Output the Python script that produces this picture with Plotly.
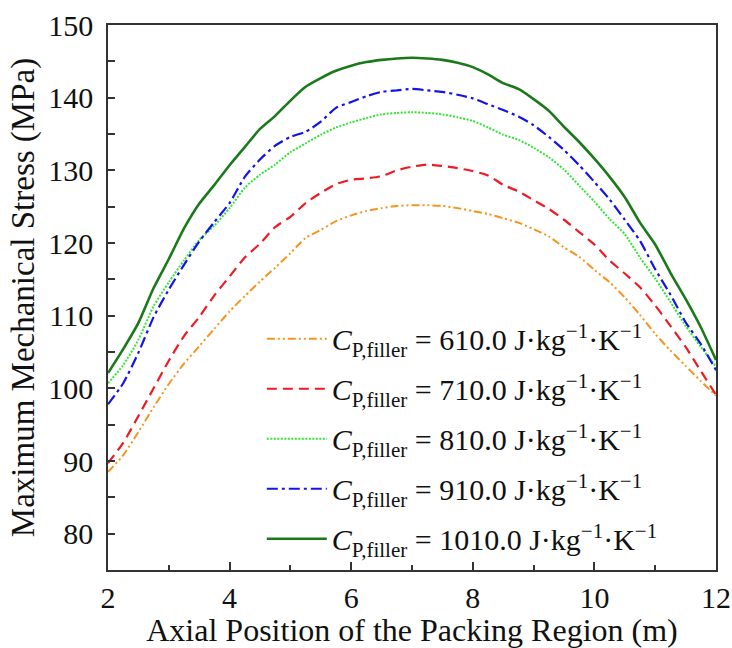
import plotly.graph_objects as go

x_pos = [2.0, 2.25, 2.5, 2.75, 3.0, 3.25, 3.5, 3.75, 4.0, 4.25, 4.5, 4.75, 5.0, 5.25, 5.5, 5.75,
         6.0, 6.25, 6.5, 6.75, 7.0, 7.25, 7.5, 7.75, 8.0, 8.25, 8.5, 8.75, 9.0, 9.25, 9.5, 9.75,
         10.0, 10.25, 10.5, 10.75, 11.0, 11.25, 11.5, 11.75, 12.0]

stress_610 = [88.5, 90.8, 94.0, 97.4, 100.6, 103.4, 105.8, 108.2, 110.6, 112.7, 114.7, 116.6, 118.6,
              120.7, 121.8, 123.0, 123.8, 124.4, 124.8, 125.1, 125.2, 125.2, 125.1, 124.8, 124.4,
              124.0, 123.4, 122.8, 121.9, 120.9, 119.4, 118.1, 116.3, 114.6, 112.5, 110.1, 107.5,
              105.2, 103.1, 101.0, 99.0]
stress_710 = [89.7, 92.5, 96.2, 100.0, 103.8, 107.2, 109.8, 112.8, 115.4, 118.0, 119.9, 122.2, 123.6,
              125.5, 126.9, 128.1, 128.7, 128.9, 129.2, 130.0, 130.5, 130.8, 130.6, 130.3, 129.9,
              129.3, 128.0, 127.1, 125.9, 124.7, 123.2, 121.5, 119.8, 117.6, 115.8, 113.9, 111.4,
              108.6, 105.7, 102.4, 99.1]
stress_810 = [100.7, 103.2, 106.7, 111.3, 114.6, 117.6, 120.4, 122.4, 124.8, 127.6, 129.4, 130.8, 132.5,
              133.7, 134.9, 135.9, 136.6, 137.2, 137.7, 137.9, 138.0, 137.9, 137.7, 137.3, 136.8,
              135.9, 134.9, 134.2, 133.1, 131.8, 130.1, 127.9, 125.7, 123.3, 121.2, 118.0, 115.1,
              111.9, 108.6, 105.7, 103.0]
stress_910 = [97.8, 100.7, 104.9, 109.8, 113.6, 117.0, 120.2, 122.9, 125.5, 129.1, 131.5, 133.4, 134.6,
              135.3, 136.7, 138.6, 139.4, 140.2, 140.8, 141.0, 141.2, 141.0, 140.8, 140.4, 139.9,
              139.1, 138.3, 137.4, 136.2, 134.6, 132.8, 130.7, 128.4, 126.0, 123.2, 120.3, 116.4,
              112.9, 109.1, 106.1, 102.5]
stress_1010 = [102.1, 105.4, 109.0, 113.8, 117.8, 122.0, 125.4, 128.0, 130.7, 133.2, 135.7, 137.5, 139.6,
               141.5, 142.7, 143.7, 144.4, 144.9, 145.2, 145.4, 145.5, 145.4, 145.2, 144.8, 144.2,
               143.2, 142.0, 141.2, 139.8, 138.2, 136.0, 133.9, 131.6, 129.1, 126.3, 122.8, 119.8,
               115.9, 112.3, 108.4, 103.9]

cp_labels = ["610.0", "710.0", "810.0", "910.0", "1010.0"]
x_ticks = [2, 4, 6, 8, 10, 12]
y_ticks = [80, 90, 100, 110, 120, 130, 140, 150]

series = [stress_610, stress_710, stress_810, stress_910, stress_1010]
colors = ["#F7941D", "#ED1C24", "#33E633", "#1414E6", "#1A7A1A"]
dashes = ["8px,3px,2px,3px,2px,3px", "10px,6px", "2px,1.5px", "11px,4px,3px,4px", "solid"]
widths = [2, 2.2, 2, 2.2, 2.6]

fig = go.Figure()
for i, (vals, lab, c, d, w) in enumerate(zip(series, cp_labels, colors, dashes, widths)):
    fig.add_trace(go.Scatter(
        x=x_pos, y=vals, mode="lines", legendgroup=f"g{i}",
        line=dict(color=c, dash=d, width=w, shape="spline", smoothing=0.6),
        name=f"<i>C</i><sub>P,filler</sub> = {lab} J·kg<sup>−1</sup>·K<sup>−1</sup>",
    ))

font_family = "Liberation Serif, Times New Roman, serif"
fig.update_layout(
    width=732, height=648,
    margin=dict(l=108, r=16, t=25, b=78),
    paper_bgcolor="white", plot_bgcolor="white",
    font=dict(family=font_family, size=30, color="#111111"),
    showlegend=True,
    legend=dict(
        x=0.253, y=0.472, xanchor="left", yanchor="top",
        bgcolor="rgba(0,0,0,0)", borderwidth=0,
        font=dict(family=font_family, size=30, color="#111111"),
        itemwidth=60, tracegroupgap=8,
    ),
    xaxis=dict(
        range=[2, 12], tickvals=x_ticks, ticks="inside", ticklen=8, tickwidth=1.5,
        tickcolor="#333333", showline=True, linecolor="#333333", linewidth=1.5, mirror=True,
        showgrid=False, zeroline=False, automargin=False,
        minor=dict(ticks="inside", dtick=1, ticklen=5, tickwidth=1.5, tickcolor="#333333", showgrid=False),
        tickfont=dict(size=30),
        title=dict(text="Axial Position of the Packing Region (m)", font=dict(size=32), standoff=2),
    ),
    yaxis=dict(
        range=[75, 150], tickvals=y_ticks, ticks="inside", ticklen=7, tickwidth=1.5,
        tickcolor="#333333", showline=True, linecolor="#333333", linewidth=1.5, mirror=True,
        showgrid=False, zeroline=False, automargin=False,
        minor=dict(ticks="inside", dtick=5, tick0=75, ticklen=7, tickwidth=1.5, tickcolor="#333333", showgrid=False),
        tickfont=dict(size=30), ticklabelstandoff=7,
        title=dict(text="Maximum Mechanical Stress (MPa)", font=dict(size=33), standoff=4),
    ),
)

fig.write_html("out.html", config={"displayModeBar": False},
               post_script="document.body.style.margin='0';")
